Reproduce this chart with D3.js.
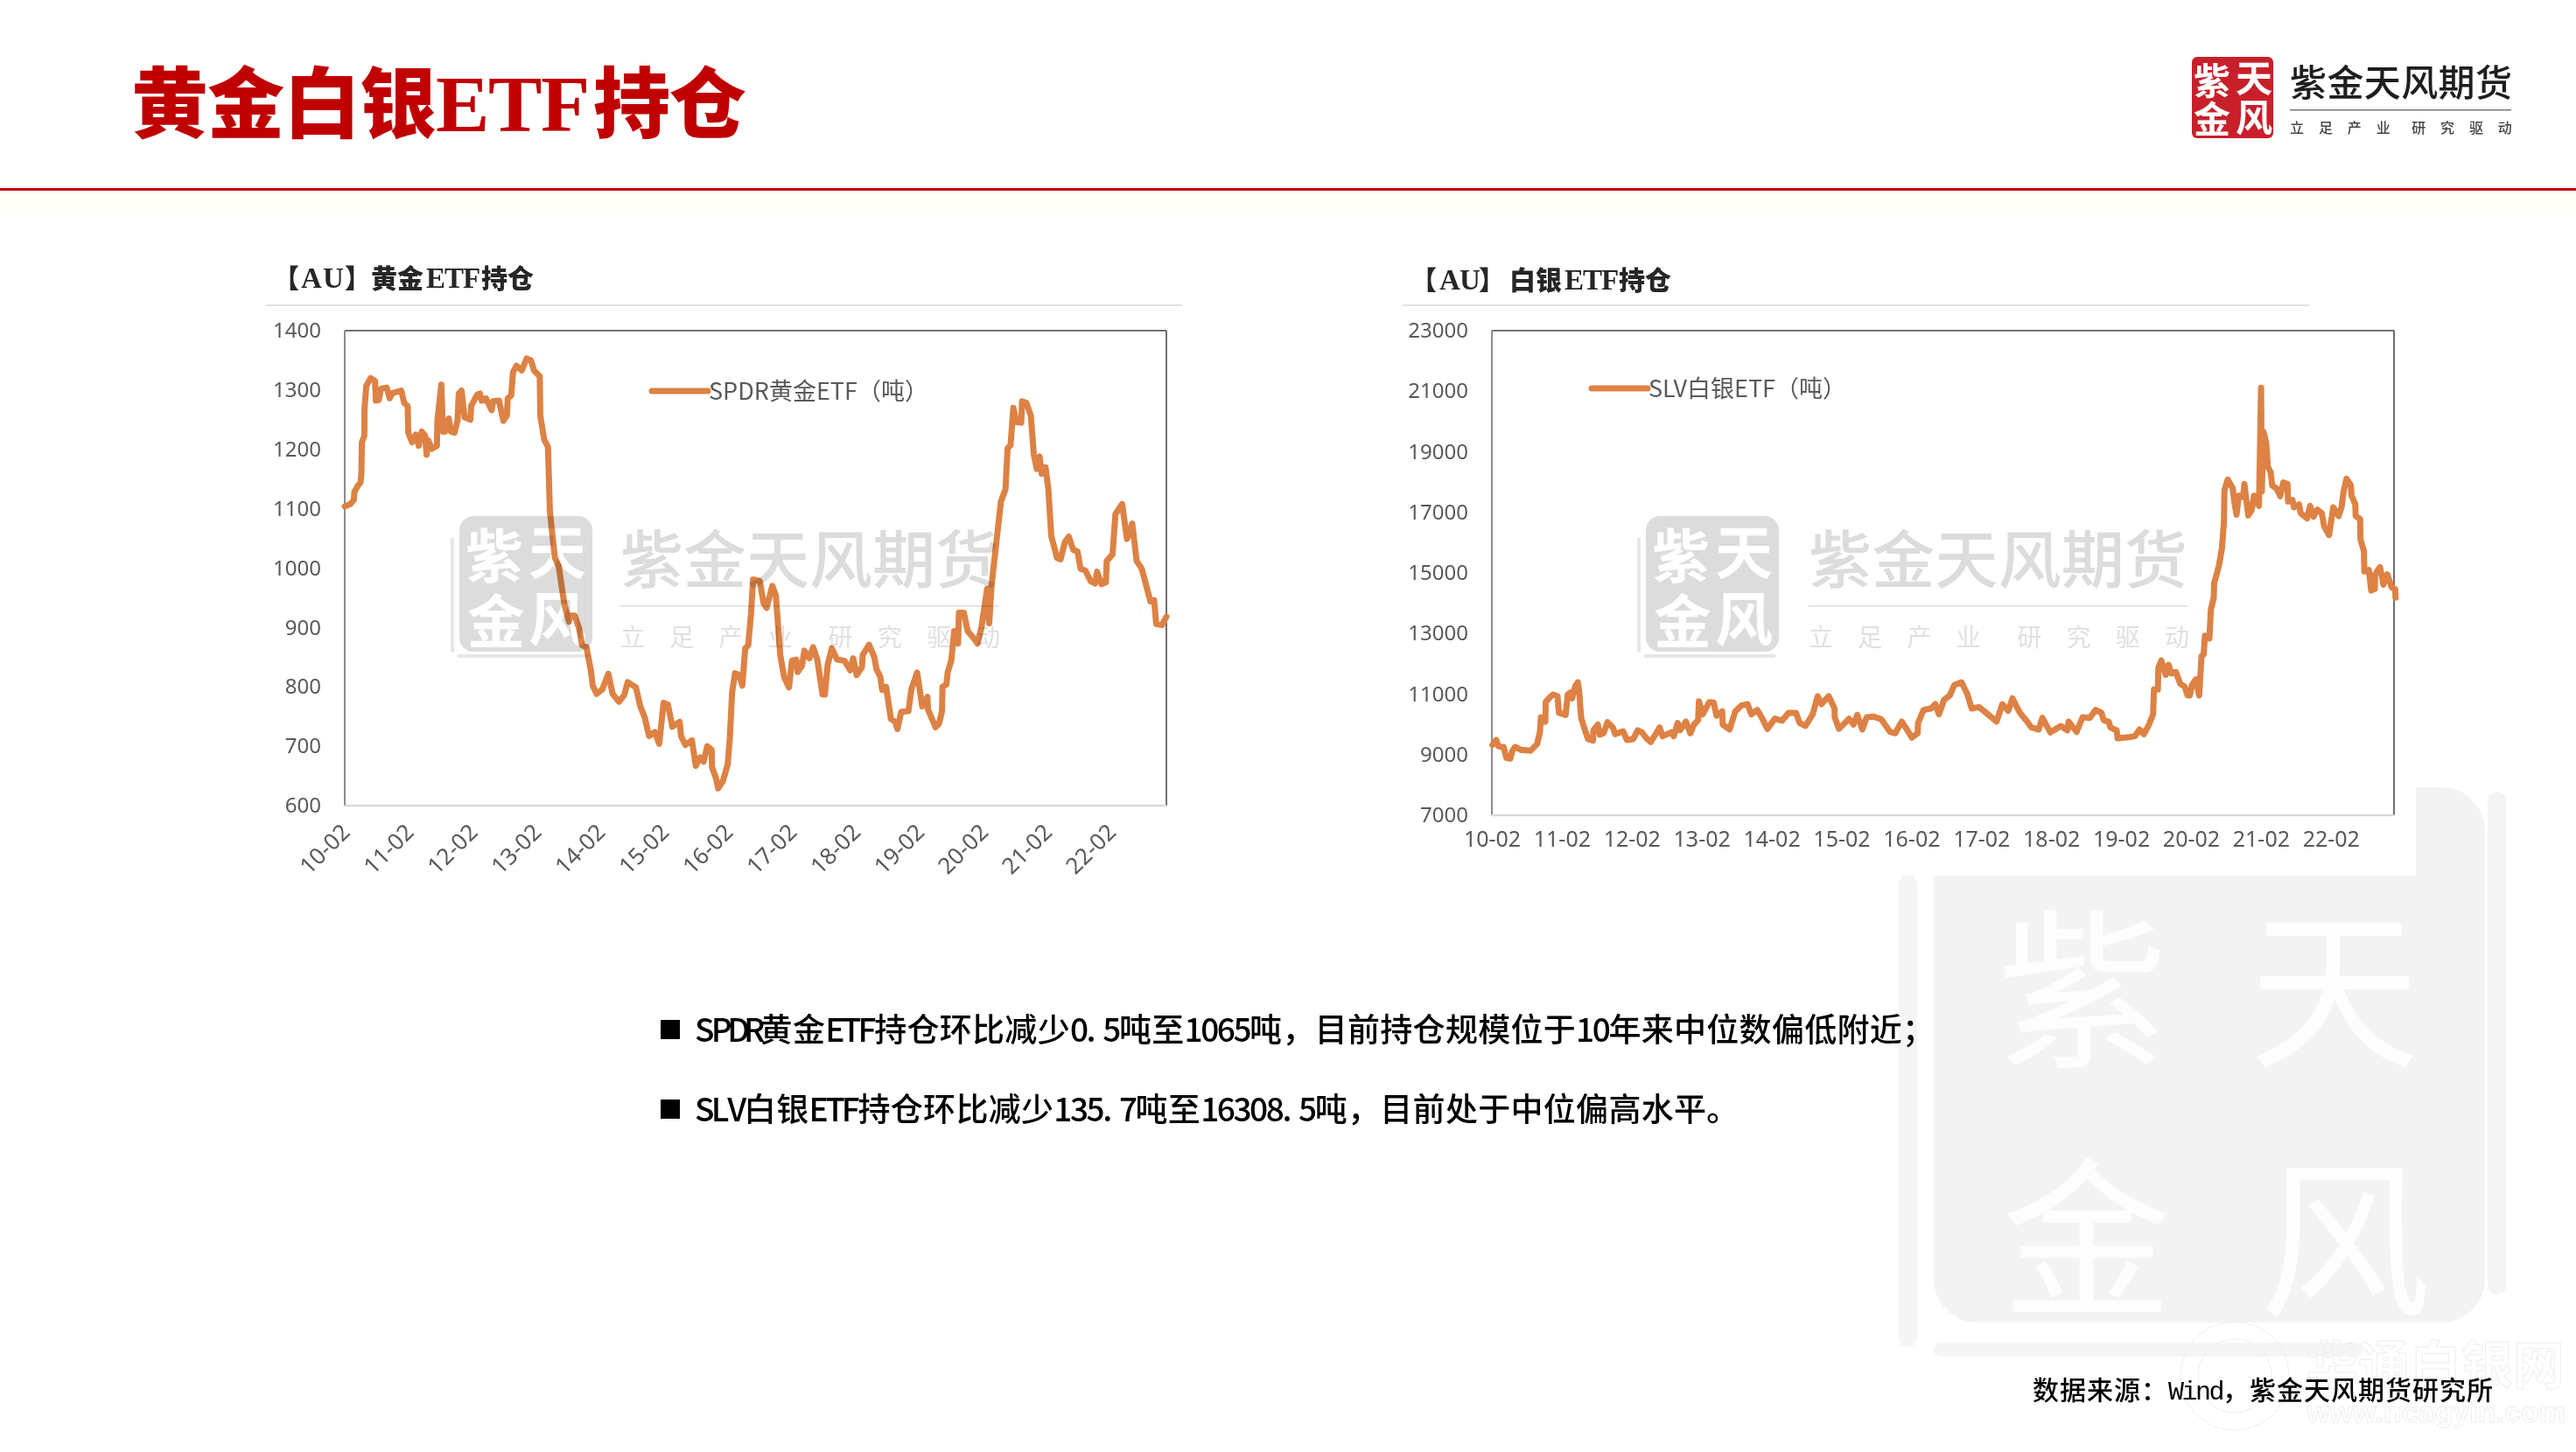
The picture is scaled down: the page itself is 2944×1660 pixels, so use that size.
<!DOCTYPE html>
<html lang="zh"><head><meta charset="utf-8">
<style>html,body{margin:0;padding:0;background:#fff}svg{display:block}</style>
<script src="https://cdnjs.cloudflare.com/ajax/libs/d3/7.8.5/d3.min.js"></script>
</head><body><div id="c"></div>
<script>
// days since 2010-02 and ETF holdings
const goldDays=[0,32,52,55,73,90,95,98,112,113,123,148,173,178,195,207,240,257,273,323,340,360,363,385,407,423,440,460,468,478,498,527,530,552,562,573,595,607,628,645,652,668,685,718,723,757,773,782,807,840,848,882,907,927,932,952,962,982,1012,1040,1065,1082,1115,1118,1140,1162,1173,1182,1202,1223,1248,1257,1282,1290,1315,1340,1357,1382,1407,1418,1440,1473,1507,1532,1568,1598,1618,1665,1690,1715,1740,1773,1798,1823,1848,1873,1915,1923,1948,1985,2007,2032,2052,2073,2098,2100,2123,2135,2162,2190,2202,2215,2232,2257,2273,2290,2307,2323,2335,2373,2395,2412,2445,2465,2490,2512,2540,2557,2582,2590,2615,2628,2657,2678,2702,2732,2745,2762,2785,2815,2857,2890,2907,2927,2957,2962,2998,3028,3040,3062,3073,3095,3123,3148,3160,3182,3223,3240,3273,3302,3332,3335,3378,3398,3415,3418,3440,3448,3468,3485,3507,3512,3540,3562,3598,3618,3640,3673,3685,3698,3740,3752,3778,3790,3807,3823,3840,3868,3873,3898,3923,3940,3957,3973,3985,4007,4023,4040,4073,4093,4118,4140,4165,4190,4207,4235,4265,4290,4302,4327,4352,4357,4390,4407,4445,4473,4503,4528,4557,4607,4628,4640,4673,4698];
const goldValues=[1104,1108,1115,1128,1138,1144,1159,1212,1223,1267,1307,1320,1315,1282,1283,1302,1304,1286,1295,1299,1278,1273,1228,1212,1225,1206,1230,1223,1191,1215,1201,1206,1249,1309,1230,1230,1252,1230,1228,1249,1294,1299,1254,1250,1273,1292,1294,1282,1286,1266,1281,1282,1248,1257,1286,1291,1330,1341,1333,1353,1350,1333,1323,1257,1217,1204,1096,1070,1017,1004,954,938,910,920,920,899,870,867,828,802,788,796,822,788,775,786,808,799,767,749,717,724,704,773,770,733,741,717,702,710,667,681,674,700,694,665,646,629,641,670,715,791,823,820,802,865,870,923,981,978,941,933,970,954,854,817,799,844,846,825,836,861,848,867,846,787,787,838,865,846,844,828,848,820,833,854,871,850,830,817,795,800,746,741,729,758,759,796,824,767,783,762,732,738,759,800,804,825,844,894,873,925,925,894,881,873,899,965,907,970,1081,1112,1133,1202,1207,1270,1246,1245,1281,1278,1257,1191,1167,1188,1159,1170,1133,1054,1017,1015,1044,1053,1031,1028,999,996,978,974,994,973,976,1012,1023,1091,1108,1049,1075,1012,999,944,946,906,904,918];
const silverDays=[3,23,35,61,76,96,107,122,152,202,236,251,256,279,281,305,320,343,350,385,396,411,419,434,449,457,461,467,480,502,528,530,553,563,583,604,632,644,685,705,738,761,784,807,830,853,876,891,937,949,970,982,1013,1036,1055,1077,1081,1101,1135,1158,1173,1203,1205,1241,1271,1302,1335,1355,1386,1416,1439,1477,1515,1549,1588,1607,1637,1675,1701,1721,1759,1789,1790,1812,1865,1888,1908,1934,1957,1995,2033,2079,2106,2140,2170,2193,2223,2225,2254,2292,2315,2334,2361,2391,2414,2452,2482,2505,2543,2581,2635,2665,2696,2718,2757,2795,2817,2855,2874,2916,2970,3005,3011,3053,3084,3122,3152,3183,3194,3221,3229,3262,3267,3328,3358,3381,3404,3431,3452,3457,3477,3480,3495,3518,3533,3548,3571,3594,3617,3632,3644,3655,3675,3693,3705,3716,3723,3746,3754,3769,3771,3784,3796,3812,3822,3825,3842,3868,3876,3888,3899,3922,3929,3949,3967,3979,4005,4007,4016,4020,4028,4043,4051,4066,4074,4096,4116,4132,4154,4157,4180,4188,4214,4223,4256,4272,4290,4310,4333,4345,4371,4393,4421,4436,4447,4462,4485,4488,4508,4510,4533,4535,4553,4555,4579,4591,4610,4611,4637,4655,4675,4698,4716,4718];
const silverValues=[9320,9484,9272,9253,8887,8868,9128,9253,9157,9128,9349,9754,10235,10091,10736,10909,10986,10928,10380,10312,10986,11053,10861,11246,11390,11005,10620,10187,9927,9513,9465,9802,9995,9658,9706,10072,9898,9677,9773,9484,9513,9802,9735,9542,9417,9658,9898,9609,9735,9609,10043,9802,10091,9706,9995,10139,10765,10331,10736,10717,10283,10428,9995,9831,10428,10620,10668,10331,10476,10139,9850,10187,10120,10380,10380,10043,9946,10331,10928,10668,10928,10524,10235,9850,10187,9995,10312,9831,10235,10254,10168,9754,9706,10091,9802,9561,9706,10043,10476,10524,10668,10331,10812,10957,11293,11389,11004,10523,10571,10379,10090,10668,10446,10860,10379,10090,9897,9830,10215,9734,9946,9801,10090,9753,10234,10215,10475,10379,10138,10090,9897,9801,9541,9580,9609,9830,9676,9994,10331,11149,11149,11871,12112,11630,11967,11678,11726,11342,11245,10956,10956,11293,11486,10956,12256,12304,12930,12834,13797,14181,14663,14952,15240,15818,16684,17743,18080,17792,17358,16925,17551,17503,17936,16896,17070,17551,17214,17888,21113,17695,19669,19284,18514,18321,17888,17792,17532,17984,17936,17358,17407,17166,17262,16973,16800,17214,16858,17089,16973,16540,16251,17166,16877,17166,17695,18109,17888,17551,17262,16877,16781,16107,15722,15048,15096,14422,14470,14952,15192,14615,14952,14518,14470,14181];
const yearLabels=["10-02","11-02","12-02","13-02","14-02","15-02","16-02","17-02","18-02","19-02","20-02","21-02","22-02"];
const goldTicks=[600,700,800,900,1000,1100,1200,1300,1400];
const silverTicks=[7000,9000,11000,13000,15000,17000,19000,21000,23000];
const bullets=["SPDR黄金ETF持仓环比减少0.5吨至1065吨，目前持仓规模位于10年来中位数偏低附近；","SLV白银ETF持仓环比减少135.7吨至16308.5吨，目前处于中位偏高水平。"];
const sourceText="数据来源：Wind，紫金天风期货研究所";
const brand="紫金天风期货", slogan=["立","足","产","业","研","究","驱","动"];
const sloganFrac=[0,.13,.26,.39,.55,.68,.81,.94];

const W=2944,H=1660, LINE="#dd8244", CJK='"Noto Sans CJK SC","Noto Sans",sans-serif', SERIF='"Liberation Serif","Noto Sans CJK SC"';
const svg=d3.select("#c").append("svg").attr("width",W).attr("height",H).attr("viewBox",`0 0 ${W} ${H}`);
const isHalf=c=>c.charCodeAt(0)<128;
function gridText(g,str,x,y,em,half,attrs){
  let cx=x;const xs=[];for(const c of str){xs.push(cx);cx+=isHalf(c)?half:em;}
  const t=g.append("text").attr("x",xs.join(" ")).attr("y",y).text(str);
  for(const k in attrs)t.attr(k,attrs[k]);return t;
}
function placed(g,str,xs,y,attrs){
  const t=g.append("text").attr("x",xs.join(" ")).attr("y",y).text(str);
  for(const k in attrs)t.attr(k,attrs[k]);return t;
}
// heading: one text element, the latin run set a little larger than the CJK
function heading(g,str,xs,y,size,latinSize,fill){
  const t=g.append("text").attr("x",xs.join(" ")).attr("y",y).attr("font-family",SERIF).attr("font-size",size).attr("font-weight",900).attr("fill",fill);
  str.split(/([A-Z]+)/).filter(Boolean).forEach(run=>{
    const s=t.append("tspan").text(run);
    if(/^[A-Z]/.test(run)) s.attr("font-size",latinSize);
  });
  return t;
}

// --- large background seal
const big=svg.append("g");
big.append("rect").attr("x",2210).attr("y",900).attr("width",630).attr("height",612).attr("rx",50).attr("fill","#f3f3f3");
big.append("rect").attr("x",2170).attr("y",1000).attr("width",21).attr("height",540).attr("rx",10).attr("fill","#f5f5f5");
big.append("rect").attr("x",2210).attr("y",1535).attr("width",490).attr("height",16).attr("rx",8).attr("fill","#f5f5f5");
big.append("rect").attr("x",2843).attr("y",905).attr("width",21).attr("height",575).attr("rx",10).attr("fill","#f4f4f4");
[["紫",2380,1205],["天",2668,1205],["金",2385,1490],["风",2680,1490]].forEach(([c,x,y])=>
  big.append("text").attr("x",x).attr("y",y).attr("text-anchor","middle").attr("font-family",CJK).attr("font-size",195).attr("font-weight",400).attr("fill","#fdfdfd").text(c));
// faint site mark
const site=svg.append("g").attr("fill","none").attr("stroke","#eeeef4").attr("stroke-width",1);
site.append("circle").attr("cx",2554).attr("cy",1573).attr("r",62);
site.append("circle").attr("cx",2554).attr("cy",1573).attr("r",42);
site.append("text").attr("x",2636).attr("y",1582).attr("font-family",CJK).attr("font-size",59).attr("font-weight",700).text("华通白银网");
site.append("text").attr("x",2636).attr("y",1626).attr("font-family",'"Liberation Sans"').attr("font-size",34).attr("font-weight",700).attr("textLength",296).attr("lengthAdjust","spacingAndGlyphs").text("www.ncagyin.com");
// white panel behind the charts
svg.append("rect").attr("x",280).attr("y",240).attr("width",2481).attr("height",761).attr("fill","#fff");

// --- header
heading(svg,"黄金白银ETF持仓",[150,237,324,411,498,558,618,678,765],150,88,92,"#c00000");
svg.append("rect").attr("x",0).attr("y",215).attr("width",W).attr("height",3).attr("fill","#c00000");
svg.append("rect").attr("x",0).attr("y",218).attr("width",W).attr("height",22).attr("fill","#fffff8");

// --- logo
const logo=svg.append("g");
logo.append("rect").attr("x",2505).attr("y",65).attr("width",93).attr("height",93).attr("rx",6).attr("fill","#c8202a");
[["紫",2528,108],["天",2576,105],["金",2528,152],["风",2576,150]].forEach(([c,x,y])=>
  logo.append("text").attr("x",x).attr("y",y).attr("text-anchor","middle").attr("font-family",CJK).attr("font-size",42).attr("font-weight",700).attr("fill","#fff").text(c));
placed(logo,brand,d3.range(6).map(i=>2617+i*42.4),110,{"font-family":CJK,"font-size":42,"font-weight":500,fill:"#1e1e1e"});
logo.append("rect").attr("x",2617).attr("y",125).attr("width",253).attr("height",1.5).attr("fill","#777");
slogan.forEach((c,i)=>logo.append("text").attr("x",2617+sloganFrac[i]*253).attr("y",152).attr("font-family",CJK).attr("font-size",16).attr("font-weight",500).attr("fill","#444").text(c));

// --- charts
function watermark(g,sx,tx,tw){
  const w=g.append("g").style("mix-blend-mode","multiply");
  w.append("rect").attr("x",sx+10).attr("y",590).attr("width",152).attr("height",155).attr("rx",16).attr("fill","#dcdcdc");
  w.append("rect").attr("x",sx).attr("y",615).attr("width",4).attr("height",130).attr("fill","#e6e6e6");
  w.append("rect").attr("x",sx+8).attr("y",748).attr("width",150).attr("height",4).attr("fill","#e6e6e6");
  [["紫",sx+50,660],["天",sx+122,656],["金",sx+52,735],["风",sx+122,732]].forEach(([c,x,y])=>
    w.append("text").attr("x",x).attr("y",y).attr("text-anchor","middle").attr("font-family",CJK).attr("font-size",66).attr("font-weight",700).attr("fill","#fff").text(c));
  const em=tw/6;
  placed(w,brand,d3.range(6).map(i=>tx+i*em),666,{"font-family":CJK,"font-size":em,"font-weight":500,fill:"#dcdcdc"});
  w.append("rect").attr("x",tx).attr("y",692).attr("width",tw).attr("height",1.5).attr("fill","#dcdcdc");
  slogan.forEach((c,i)=>w.append("text").attr("x",tx+sloganFrac[i]*tw).attr("y",739).attr("font-family",CJK).attr("font-size",28).attr("fill","#e0e0e0").text(c));
}
function chart(o){
  const g=svg.append("g");
  const x=d3.scaleLinear().domain(o.xDomain).range([o.x0,o.x1]);
  const y=d3.scaleLinear().domain(o.yDomain).range([o.y1,o.y0]);
  const frame=g.append("g");
  frame.append("line").attr("x1",o.x0).attr("x2",o.x1).attr("y1",o.y0).attr("y2",o.y0).attr("stroke","#404040").attr("stroke-width",1.5);
  frame.append("line").attr("x1",o.x1).attr("x2",o.x1).attr("y1",o.y0).attr("y2",o.y1).attr("stroke","#404040").attr("stroke-width",1.5);
  frame.append("line").attr("x1",o.x0).attr("x2",o.x0).attr("y1",o.y0).attr("y2",o.y1).attr("stroke","#8c8c8c").attr("stroke-width",2);
  frame.append("line").attr("x1",o.x0).attr("x2",o.x1).attr("y1",o.y1).attr("y2",o.y1).attr("stroke","#d9d9d9").attr("stroke-width",2.5);
  const ya=d3.axisLeft(y).tickValues(o.yTicks).tickFormat(d3.format("d")).tickSize(0).tickPadding(0);
  const yg=g.append("g").attr("transform",`translate(${o.yLabelX},0)`).call(ya);
  yg.select(".domain").remove();
  yg.selectAll("text").attr("font-family",'"Noto Sans",sans-serif').attr("font-size",24).attr("fill","#595959");
  const xa=d3.axisBottom(x).tickValues(yearLabels.map((_,i)=>i*365)).tickFormat((_,i)=>yearLabels[i]).tickSize(0).tickPadding(0);
  const xg=g.append("g").attr("transform",`translate(0,${o.y1})`).call(xa);
  xg.select(".domain").remove();
  xg.selectAll("text").attr("font-family",'"Noto Sans",sans-serif').attr("fill","#595959");
  if(o.rotate) xg.selectAll("text").attr("font-size",26).attr("text-anchor","end").attr("dy",0).attr("y",0).attr("transform","translate(7,32) rotate(-45)");
  else xg.selectAll("text").attr("font-size",25).attr("dy",0).attr("y",36);
  const ln=d3.line().x(d=>x(d[0])).y(d=>y(d[1])).curve(d3.curveLinear);
  g.append("path").datum(d3.zip(o.days,o.values)).attr("d",ln).attr("fill","none").attr("stroke",LINE).attr("stroke-width",7).attr("stroke-linejoin","round").attr("stroke-linecap","round");
  g.append("line").attr("x1",o.legX).attr("x2",o.legX+64).attr("y1",o.legY).attr("y2",o.legY).attr("stroke",LINE).attr("stroke-width",7).attr("stroke-linecap","round");
  g.append("text").attr("x",o.legX+65).attr("y",o.legY+10).attr("font-family",CJK).attr("font-size",27).attr("fill","#595959").text(o.legend);
  watermark(g,o.wmS,o.wmT,o.wmW);
  heading(g,o.title,o.titleXs,o.titleY,30,33,"#262626");
  g.append("rect").attr("x",o.ruleX0).attr("y",348).attr("width",o.ruleX1-o.ruleX0).attr("height",2).attr("fill","#e0e0e0");
}
chart({x0:394,x1:1333,y0:378,y1:921,xDomain:[0,4698],yDomain:[600,1400],yTicks:goldTicks,yLabelX:367,rotate:true,days:goldDays,values:goldValues,
  legX:745,legY:447,legend:"SPDR黄金ETF（吨）",wmS:515,wmT:709,wmW:432,
  title:"【AU】黄金ETF持仓",titleXs:[312,344,369,394,424,454,487,508,529,550,580],titleY:329,ruleX0:304,ruleX1:1351});
chart({x0:1705,x1:2736,y0:378,y1:932,xDomain:[0,4710],yDomain:[7000,23000],yTicks:silverTicks,yLabelX:1678,rotate:false,days:silverDays,values:silverValues,
  legX:1819,legY:444,legend:"SLV白银ETF（吨）",wmS:1871,wmT:2067,wmW:433,
  title:"【AU】白银ETF持仓",titleXs:[1612,1645,1668,1690,1725,1755,1788,1809,1830,1850,1880],titleY:331,ruleX0:1603,ruleX1:2639});

// --- commentary
const body=svg.append("g");
bullets.forEach((s,i)=>{
  const yc=[1177,1268][i];
  body.append("rect").attr("x",755).attr("y",yc-11).attr("width",22).attr("height",22).attr("fill","#000");
  gridText(body,s,794,yc+14,37.3,18.65,{"font-family":'"Liberation Sans Narrow","Noto Sans CJK SC"',"font-size":37,"font-weight":500,fill:"#000"});
});
gridText(body,sourceText,2323,1600,31,15.5,{"font-family":'"Liberation Mono","Noto Sans CJK SC"',"font-size":30,"font-weight":500,fill:"#000"});
</script></body></html>
